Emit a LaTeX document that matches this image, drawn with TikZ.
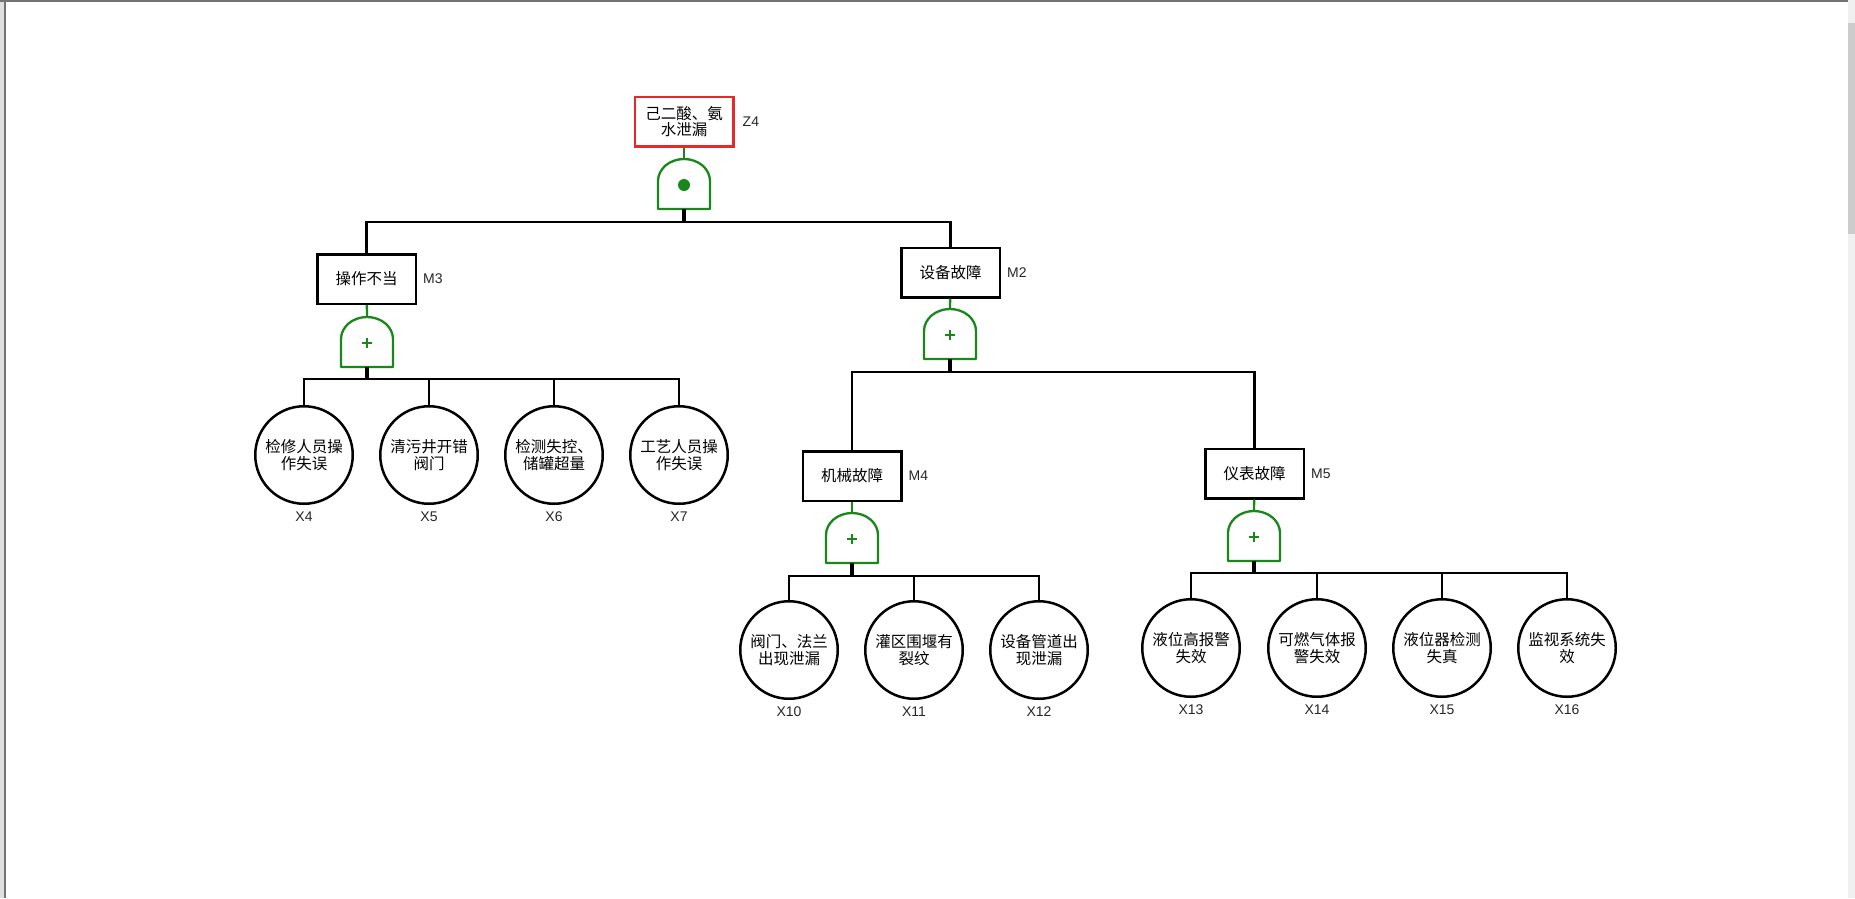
\documentclass[tikz,border=0pt]{standalone}
\usepackage{fontspec}
\setmainfont{Liberation Sans}
\newfontfamily\cjk{Noto Sans CJK SC}
\usetikzlibrary{positioning}

\definecolor{gatecol}{RGB}{25,135,25}
\definecolor{topred}{RGB}{235,40,40}

\tikzset{
  event/.style={draw, line width=2.5pt, minimum width=98.5pt, minimum height=49.5pt, inner sep=0pt,
    align=center, font=\cjk\fontsize{15.5}{16.5}\selectfont},
  basic/.style={circle, draw, line width=2.5pt, minimum size=97.5pt, inner sep=0pt,
    align=center, font=\cjk\fontsize{15.5}{16.5}\selectfont},
  tag/.style={inner sep=0pt, font=\fontsize{14}{14}\selectfont, text=black!85},
  wire/.style={line width=2.5pt},
  trunk/.style={line width=3.5pt},
  gwire/.style={line width=2.3pt, draw=gatecol},
  gate/.style={line width=2.3pt, draw=gatecol, fill=white, line join=round},
}

\begin{document}
\begin{tikzpicture}[x=1pt, y=-1pt]
\useasboundingbox (0,0) rectangle (1855,898);
\fill[white] (0,0) rectangle (1855,898);
\fill[black!12] (0,0) rectangle (4,898);
\draw[black!55, line width=2pt] (5,0) -- (5,898);
\draw[black!55, line width=2pt] (0,1) -- (1848,1);
\fill[black!6] (1848,0) rectangle (1855,898);
\fill[black!20] (1848,23) rectangle (1855,234);

\node[event, draw=topred] (z4) at (684,121.5) {己二酸、氨\\水泄漏};
\node[event] (m3) at (366.5,279) {操作不当};
\node[event] (m2) at (950.5,272.5) {设备故障};
\node[event] (m4) at (852,476) {机械故障};
\node[event] (m5) at (1254.5,473.5) {仪表故障};

\node[tag, right=8pt of z4] (tz4) {Z4};
\node[tag, right=6pt of m3] (tm3) {M3};
\node[tag, right=6pt of m2] (tm2) {M2};
\node[tag, right=6pt of m4] (tm4) {M4};
\node[tag, right=6pt of m5] (tm5) {M5};

\foreach \g/\x/\y in {gz4/684/159, gm3/367/317, gm2/950/309, gm4/852/513, gm5/1254/511} {
  \draw[gate] (\x-26,\y+50) -- (\x-26,\y+22)
    arc[start angle=180, end angle=0, x radius=26pt, y radius=22pt] -- (\x+26,\y+50) -- cycle;
  \coordinate (\g-t) at (\x,\y);
  \coordinate (\g-b) at (\x,\y+50);
}
\fill[gatecol] ([yshift=-26pt]gz4-t) circle (6pt);
\foreach \g in {gm3,gm2,gm4,gm5}
  \draw[gwire] ([xshift=-5pt,yshift=-26pt]\g-t) -- ([xshift=5pt,yshift=-26pt]\g-t)
    ([yshift=-21pt]\g-t) -- ([yshift=-31pt]\g-t);

\node[basic] (x4) at (304,455) {检修人员操\\作失误};
\node[basic] (x5) at (429,455) {清污井开错\\阀门};
\node[basic] (x6) at (554,455) {检测失控、\\储罐超量};
\node[basic] (x7) at (679,455) {工艺人员操\\作失误};
\node[basic] (x10) at (789,650) {阀门、法兰\\出现泄漏};
\node[basic] (x11) at (914,650) {灌区围堰有\\裂纹};
\node[basic] (x12) at (1039,650) {设备管道出\\现泄漏};
\node[basic] (x13) at (1191,648) {液位高报警\\失效};
\node[basic] (x14) at (1317,648) {可燃气体报\\警失效};
\node[basic] (x15) at (1442,648) {液位器检测\\失真};
\node[basic] (x16) at (1567,648) {监视系统失\\效};

\foreach \i in {4,...,7}
  \node[tag, below=7pt of x\i] (t\i) {X\i};
\foreach \i in {10,...,16}
  \node[tag, below=7pt of x\i] (t\i) {X\i};

\draw[gwire] (z4) -- (gz4-t);
\draw[gwire] (m3) -- (gm3-t);
\draw[gwire] (m2) -- (gm2-t);
\draw[gwire] (m4) -- (gm4-t);
\draw[gwire] (m5) -- (gm5-t);

\draw[trunk] (gz4-b) -- ++(0,13);
\draw[wire] (gz4-b) -- ++(0,13) -| (m3.north);
\draw[wire] (gz4-b) -- ++(0,13) -| (m2.north);

\draw[trunk] (gm2-b) -- ++(0,13);
\draw[wire] (gm2-b) -- ++(0,13) -| (m4.north);
\draw[wire] (gm2-b) -- ++(0,13) -| (m5.north);

\draw[trunk] (gm3-b) -- ++(0,12);
\foreach \i in {4,...,7}
  \draw[wire] (gm3-b) -- ++(0,12) -| (x\i.north);
\draw[trunk] (gm4-b) -- ++(0,13);
\foreach \i in {10,...,12}
  \draw[wire] (gm4-b) -- ++(0,13) -| (x\i.north);
\draw[trunk] (gm5-b) -- ++(0,12);
\foreach \i in {13,...,16}
  \draw[wire] (gm5-b) -- ++(0,12) -| (x\i.north);

\end{tikzpicture}
\end{document}
